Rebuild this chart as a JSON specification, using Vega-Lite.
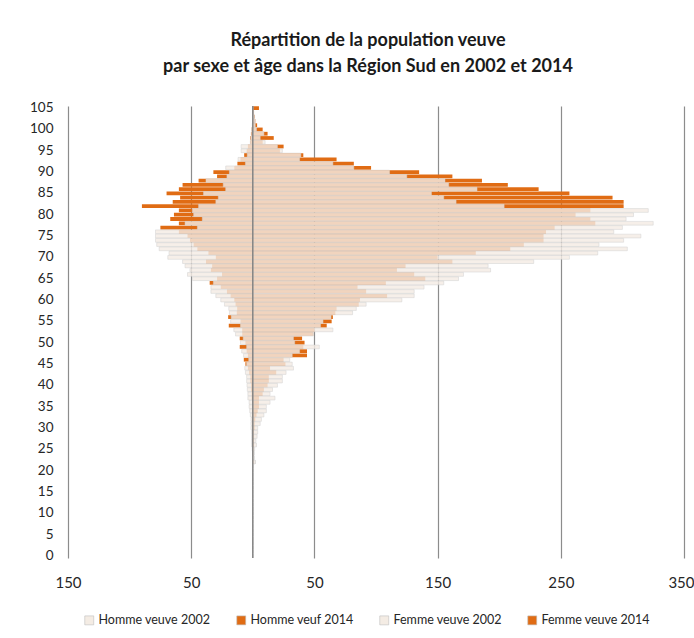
{
  "$schema": "https://vega.github.io/schema/vega-lite/v6.json",
  "width": 616,
  "height": 452,
  "autosize": {"type": "none"},
  "padding": {"left": 68, "top": 106, "right": 10, "bottom": 80},
  "background": "white",
  "config": {"view": {"stroke": null}, "font": "Lato"},
  "title": {
    "text": ["Répartition de la population veuve", "par sexe et âge dans la Région Sud en 2002 et 2014"],
    "font": "Lato", "fontSize": 18, "fontWeight": "bold", "color": "#1a1a1a",
    "anchor": "middle", "lineHeight": 26, "offset": 25, "dx": -8
  },
  "data": {"values": [
    {"age":105,"H2002":0,"H2014":0,"F2002":0,"F2014":5},
    {"age":104,"H2002":0,"H2014":0,"F2002":0.5,"F2014":1},
    {"age":103,"H2002":0,"H2014":0,"F2002":1,"F2014":1.5},
    {"age":102,"H2002":0,"H2014":0,"F2002":1.5,"F2014":2},
    {"age":101,"H2002":-0.5,"H2014":-0.5,"F2002":2,"F2014":3.5},
    {"age":100,"H2002":-1,"H2014":-1,"F2002":3,"F2014":8},
    {"age":99,"H2002":-1,"H2014":-1.5,"F2002":9,"F2014":12},
    {"age":98,"H2002":-1.5,"H2014":-2,"F2002":6,"F2014":17},
    {"age":97,"H2002":-2,"H2014":-2,"F2002":10,"F2014":8},
    {"age":96,"H2002":-9.5,"H2014":-4,"F2002":20,"F2014":25},
    {"age":95,"H2002":-9.5,"H2014":-5,"F2002":24,"F2014":22},
    {"age":94,"H2002":-4.5,"H2014":-7,"F2002":39,"F2014":41},
    {"age":93,"H2002":-12,"H2014":-10,"F2002":38,"F2014":68},
    {"age":92,"H2002":-6,"H2014":-12.5,"F2002":65,"F2014":82},
    {"age":91,"H2002":-22,"H2014":-15,"F2002":82,"F2014":96},
    {"age":90,"H2002":-19,"H2014":-32,"F2002":111,"F2014":135},
    {"age":89,"H2002":-21,"H2014":-29,"F2002":125,"F2014":162},
    {"age":88,"H2002":-38,"H2014":-44,"F2002":156,"F2014":186},
    {"age":87,"H2002":-24,"H2014":-57,"F2002":159,"F2014":207},
    {"age":86,"H2002":-22,"H2014":-60,"F2002":182,"F2014":232},
    {"age":85,"H2002":-40,"H2014":-70,"F2002":145,"F2014":257},
    {"age":84,"H2002":-28,"H2014":-59,"F2002":155,"F2014":292},
    {"age":83,"H2002":-30,"H2014":-65,"F2002":165,"F2014":301},
    {"age":82,"H2002":-44,"H2014":-90,"F2002":204,"F2014":301},
    {"age":81,"H2002":-49,"H2014":-60,"F2002":321,"F2014":274},
    {"age":80,"H2002":-48,"H2014":-64,"F2002":309,"F2014":262},
    {"age":79,"H2002":-41,"H2014":-67,"F2002":303,"F2014":274},
    {"age":78,"H2002":-55,"H2014":-60,"F2002":325,"F2014":278},
    {"age":77,"H2002":-45,"H2014":-75,"F2002":300,"F2014":245},
    {"age":76,"H2002":-79,"H2014":-60,"F2002":293,"F2014":238},
    {"age":75,"H2002":-79,"H2014":-53,"F2002":315,"F2014":236},
    {"age":74,"H2002":-79,"H2014":-51,"F2002":301,"F2014":236},
    {"age":73,"H2002":-78,"H2014":-48,"F2002":281,"F2014":220},
    {"age":72,"H2002":-76,"H2014":-45,"F2002":304,"F2014":209},
    {"age":71,"H2002":-68,"H2014":-36,"F2002":280,"F2014":181},
    {"age":70,"H2002":-69,"H2014":-30,"F2002":257,"F2014":150},
    {"age":69,"H2002":-57,"H2014":-38,"F2002":228,"F2014":162},
    {"age":68,"H2002":-55,"H2014":-33,"F2002":191,"F2014":124},
    {"age":67,"H2002":-51,"H2014":-34,"F2002":193,"F2014":117},
    {"age":66,"H2002":-53,"H2014":-25,"F2002":171,"F2014":131},
    {"age":65,"H2002":-49,"H2014":-29,"F2002":167,"F2014":140},
    {"age":64,"H2002":-32,"H2014":-35,"F2002":155,"F2014":108},
    {"age":63,"H2002":-34,"H2014":-26,"F2002":139,"F2014":85},
    {"age":62,"H2002":-34,"H2014":-21,"F2002":131,"F2014":92},
    {"age":61,"H2002":-30,"H2014":-18,"F2002":131,"F2014":109},
    {"age":60,"H2002":-26,"H2014":-15,"F2002":121,"F2014":87},
    {"age":59,"H2002":-23,"H2014":-14,"F2002":92,"F2014":86},
    {"age":58,"H2002":-19.5,"H2014":-12.7,"F2002":84,"F2014":68},
    {"age":57,"H2002":-19,"H2014":-13,"F2002":81,"F2014":67},
    {"age":56,"H2002":-17.5,"H2014":-20,"F2002":63.5,"F2014":65},
    {"age":55,"H2002":-18,"H2014":-10,"F2002":57,"F2014":64},
    {"age":54,"H2002":-10,"H2014":-19.5,"F2002":55,"F2014":60},
    {"age":53,"H2002":-15.4,"H2014":-8.6,"F2002":65,"F2014":50},
    {"age":52,"H2002":-14,"H2014":-8.6,"F2002":49,"F2014":49},
    {"age":51,"H2002":-7.8,"H2014":-10.6,"F2002":33,"F2014":40},
    {"age":50,"H2002":-10,"H2014":-6,"F2002":34,"F2014":42},
    {"age":49,"H2002":-5,"H2014":-10.6,"F2002":54,"F2014":41},
    {"age":48,"H2002":-9,"H2014":-5,"F2002":38,"F2014":44},
    {"age":47,"H2002":-7.5,"H2014":-4,"F2002":32,"F2014":44},
    {"age":46,"H2002":-3.3,"H2014":-7.3,"F2002":30,"F2014":25},
    {"age":45,"H2002":-5,"H2014":-6,"F2002":32,"F2014":26.5},
    {"age":44,"H2002":-6.5,"H2014":-4,"F2002":33,"F2014":14},
    {"age":43,"H2002":-6,"H2014":-3,"F2002":27,"F2014":19},
    {"age":42,"H2002":-5,"H2014":-2,"F2002":24,"F2014":13},
    {"age":41,"H2002":-5,"H2014":-2,"F2002":24,"F2014":13},
    {"age":40,"H2002":-4.7,"H2014":-1.5,"F2002":20,"F2014":12},
    {"age":39,"H2002":-4.5,"H2014":-1.5,"F2002":16,"F2014":9},
    {"age":38,"H2002":-4,"H2014":-1,"F2002":14,"F2014":8},
    {"age":37,"H2002":-4,"H2014":-1,"F2002":18,"F2014":5},
    {"age":36,"H2002":-3,"H2014":-0.5,"F2002":14,"F2014":5},
    {"age":35,"H2002":-3,"H2014":-0.5,"F2002":11,"F2014":5},
    {"age":34,"H2002":-2.5,"H2014":-0.5,"F2002":11,"F2014":4},
    {"age":33,"H2002":-2,"H2014":-0.3,"F2002":9,"F2014":3},
    {"age":32,"H2002":-1.5,"H2014":-0.3,"F2002":7,"F2014":2},
    {"age":31,"H2002":-1.5,"H2014":-0.3,"F2002":6,"F2014":1.5},
    {"age":30,"H2002":-1.5,"H2014":-0.3,"F2002":4,"F2014":1.5},
    {"age":29,"H2002":-1,"H2014":-0.2,"F2002":4,"F2014":1},
    {"age":28,"H2002":-1,"H2014":-0.2,"F2002":3.5,"F2014":1},
    {"age":27,"H2002":-1,"H2014":-0.2,"F2002":2.5,"F2014":1},
    {"age":26,"H2002":-1,"H2014":0,"F2002":3,"F2014":1},
    {"age":25,"H2002":-0.5,"H2014":0,"F2002":1.5,"F2014":0.5},
    {"age":24,"H2002":0,"H2014":0,"F2002":1,"F2014":0.5},
    {"age":23,"H2002":0,"H2014":0,"F2002":1,"F2014":0},
    {"age":22,"H2002":0,"H2014":0,"F2002":2,"F2014":0.5},
    {"age":21,"H2002":0,"H2014":0,"F2002":0,"F2014":0},
    {"age":20,"H2002":0,"H2014":0,"F2002":0,"F2014":0},
    {"age":19,"H2002":0,"H2014":0,"F2002":0,"F2014":0},
    {"age":18,"H2002":0,"H2014":0,"F2002":0,"F2014":0},
    {"age":17,"H2002":0,"H2014":0,"F2002":0,"F2014":0},
    {"age":16,"H2002":0,"H2014":0,"F2002":0,"F2014":0},
    {"age":15,"H2002":0,"H2014":0,"F2002":0,"F2014":0},
    {"age":14,"H2002":0,"H2014":0,"F2002":0,"F2014":0},
    {"age":13,"H2002":0,"H2014":0,"F2002":0,"F2014":0},
    {"age":12,"H2002":0,"H2014":0,"F2002":0,"F2014":0},
    {"age":11,"H2002":0,"H2014":0,"F2002":0,"F2014":0},
    {"age":10,"H2002":0,"H2014":0,"F2002":0,"F2014":0},
    {"age":9,"H2002":0,"H2014":0,"F2002":0,"F2014":0},
    {"age":8,"H2002":0,"H2014":0,"F2002":0,"F2014":0},
    {"age":7,"H2002":0,"H2014":0,"F2002":0,"F2014":0},
    {"age":6,"H2002":0,"H2014":0,"F2002":0,"F2014":0},
    {"age":5,"H2002":0,"H2014":0,"F2002":0,"F2014":0},
    {"age":4,"H2002":0,"H2014":0,"F2002":0,"F2014":0},
    {"age":3,"H2002":0,"H2014":0,"F2002":0,"F2014":0},
    {"age":2,"H2002":0,"H2014":0,"F2002":0,"F2014":0},
    {"age":1,"H2002":0,"H2014":0,"F2002":0,"F2014":0},
    {"age":0,"H2002":0,"H2014":0,"F2002":0,"F2014":0}
  ]},
  "layer": [
    {
      "transform": [{"fold": ["H2002", "H2014", "F2002", "F2014"], "as": ["serie", "v"]}],
      "encoding": {
        "y": {
          "field": "age", "type": "ordinal",
          "scale": {
            "domain": [105,104,103,102,101,100,99,98,97,96,95,94,93,92,91,90,89,88,87,86,85,84,83,82,81,80,79,78,77,76,75,74,73,72,71,70,69,68,67,66,65,64,63,62,61,60,59,58,57,56,55,54,53,52,51,50,49,48,47,46,45,44,43,42,41,40,39,38,37,36,35,34,33,32,31,30,29,28,27,26,25,24,23,22,21,20,19,18,17,16,15,14,13,12,11,10,9,8,7,6,5,4,3,2,1,0],
            "paddingInner": 0.12, "paddingOuter": 0.06
          },
          "axis": {
            "values": [105,100,95,90,85,80,75,70,65,60,55,50,45,40,35,30,25,20,15,10,5,0],
            "title": null, "domain": false, "ticks": false, "grid": false,
            "labelFont": "Lato", "labelFontSize": 13.5, "labelColor": "#262626", "labelPadding": 15
          }
        },
        "x": {
          "field": "v", "type": "quantitative",
          "scale": {"domain": [-150, 350], "nice": false, "zero": false},
          "axis": {
            "values": [-150, -50, 50, 150, 250, 350],
            "labelExpr": "abs(datum.value)",
            "labelFlush": false, "labelOverlap": false, "labelBound": false,
            "labelAlign": {"condition": {"test": "datum.value == 350", "value": "right"}, "value": "center"},
            "labelOffset": {"condition": {"test": "datum.value == 350", "value": 10}, "value": 0},
            "title": null, "domain": false, "ticks": false,
            "grid": true, "gridColor": "#8c8c8c", "gridWidth": 1.2,
            "labelFont": "Lato", "labelFontSize": 15, "labelColor": "#262626", "labelPadding": 17
          }
        },
        "color": {
          "field": "serie", "type": "nominal",
          "scale": {
            "domain": ["H2002", "H2014", "F2002", "F2014"],
            "range": ["#f4ece4", "#e06c14", "#f4ece4", "#e06c14"]
          },
          "legend": {
            "orient": "none", "legendX": 15, "legendY": 508, "direction": "horizontal",
            "title": null,
            "labelExpr": "datum.label == 'H2002' ? 'Homme veuve 2002' : datum.label == 'H2014' ? 'Homme veuf 2014' : datum.label == 'F2002' ? 'Femme veuve 2002' : 'Femme veuve 2014'",
            "labelFont": "Lato", "labelFontSize": 12.5, "labelColor": "#262626", "labelOffset": 3,
            "symbolType": "square", "symbolSize": 80, "symbolStrokeColor": "#bdbdbd", "symbolStrokeWidth": 0.6,
            "symbolOpacity": 1, "columnPadding": 24
          }
        }
      },
      "layer": [
        {
          "transform": [{"filter": {"field": "serie", "oneOf": ["H2014", "F2014"]}}],
          "mark": {"type": "bar"}
        },
        {
          "transform": [{"filter": {"field": "serie", "oneOf": ["H2002", "F2002"]}}],
          "mark": {"type": "bar", "fillOpacity": 0.82, "stroke": "#d0d0d0", "strokeWidth": 0.5}
        }
      ]
    },
    {
      "data": {"values": [{}]},
      "mark": {"type": "rule", "color": "#7f7f7f", "strokeWidth": 1.4},
      "encoding": {"x": {"datum": 0, "type": "quantitative"}}
    }
  ]
}
